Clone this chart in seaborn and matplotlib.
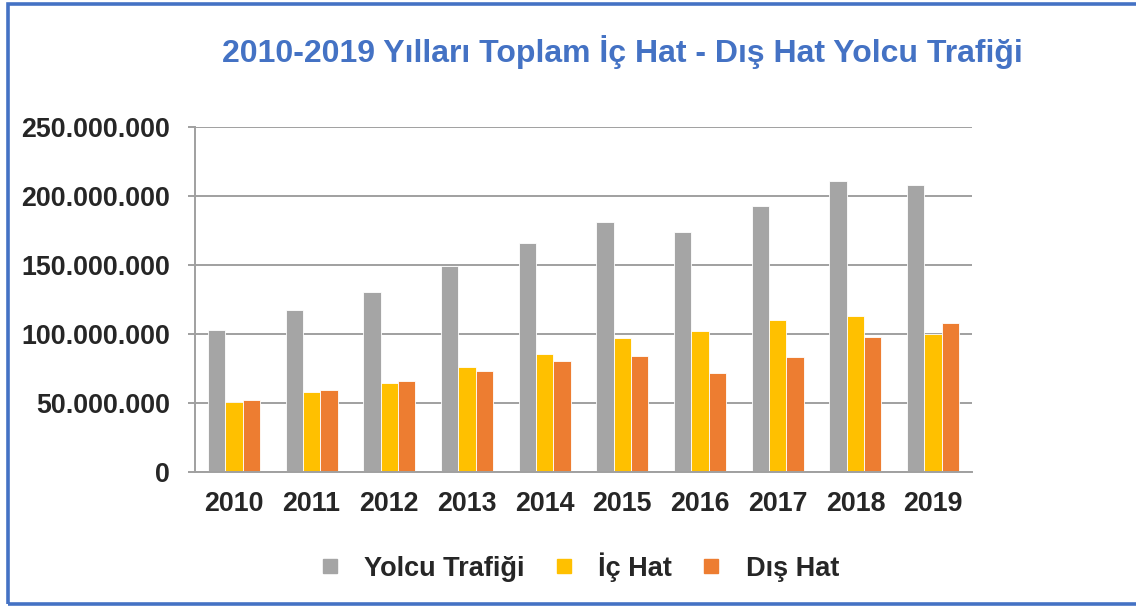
import matplotlib
matplotlib.use("Agg")
import matplotlib.pyplot as plt
import seaborn as sns
import pandas as pd
from matplotlib.patches import Rectangle
from matplotlib.lines import Line2D
from matplotlib.ticker import FuncFormatter, MultipleLocator

years = ["2010", "2011", "2012", "2013", "2014", "2015", "2016", "2017", "2018", "2019"]
yolcu_trafigi = [102.8, 117.6, 130.4, 149.4, 165.7, 181.0, 173.9, 193.0, 210.5, 208.3]
ic_hat = [50.6, 58.3, 64.7, 76.1, 85.4, 97.0, 102.5, 109.8, 112.8, 100.0]
dis_hat = [52.2, 59.3, 65.7, 73.3, 80.3, 84.0, 71.4, 83.2, 97.7, 108.3]
series_names = ["Yolcu Trafiği", "İç Hat", "Dış Hat"]
colors = ["#A5A5A5", "#FFC000", "#ED7D31"]

df = pd.DataFrame({
    "Yıl": years * 3,
    "Seri": [s for s in series_names for _ in years],
    "Yolcu": [v * 1e6 for v in yolcu_trafigi + ic_hat + dis_hat],
})

sns.set_style("white")
plt.rcParams["font.family"] = ["Liberation Sans", "DejaVu Sans"]

fig = plt.figure(figsize=(11.36, 6.07), dpi=100)
ax = fig.add_axes([0.1717, 0.2224, 0.6839, 0.5684])

sns.barplot(data=df, x="Yıl", y="Yolcu", hue="Seri", palette=colors, saturation=1,
            width=0.67, gap=0, edgecolor="white", linewidth=0.6, ax=ax, legend=False)

grid_c = "#A0A0A0"
ax.set_ylim(0, 250e6)
ax.set_xlim(-0.5, 9.5)
ax.yaxis.set_major_locator(MultipleLocator(50e6))
ax.yaxis.set_major_formatter(FuncFormatter(lambda v, p: f"{int(v):,}".replace(",", ".")))
ax.grid(axis="y", color=grid_c, linewidth=1.4)
ax.set_axisbelow(True)
for s in ["top", "right"]:
    ax.spines[s].set_visible(False)
for s in ["left", "bottom"]:
    ax.spines[s].set_color(grid_c)
    ax.spines[s].set_linewidth(1.4)

ax.set_xticks([i - 0.5 for i in range(11)], minor=True)
ax.tick_params(axis="x", which="minor", length=7, width=1.4, color=grid_c, direction="out")
ax.tick_params(axis="x", which="major", length=0, pad=14, labelsize=19.3)
ax.tick_params(axis="y", length=5, width=1.4, color=grid_c, pad=13, labelsize=19.3, left=True)
for lbl in ax.get_xticklabels() + ax.get_yticklabels():
    lbl.set_fontweight("bold")
ax.set_xlabel("")
ax.set_ylabel("")

fig.text(0.5475, 0.914, "2010-2019 Yılları Toplam İç Hat - Dış Hat Yolcu Trafiği",
         ha="center", va="center", fontsize=23, fontweight="bold", color="#4472C4")

handles = [Line2D([], [], marker="s", linestyle="none", markersize=10.5,
                  markerfacecolor=c, markeredgecolor=c) for c in colors]
fig.legend(handles, series_names, loc="center", bbox_to_anchor=(0.511, 0.066), ncol=3,
           frameon=False, prop={"weight": "bold", "size": 19.5},
           handlelength=0.6, handletextpad=0.96, columnspacing=1.15)

fig.patches.append(Rectangle((0.007, 0.005), 1.2, 0.988, transform=fig.transFigure,
                             fill=False, edgecolor="#4472C4", linewidth=2.6))

fig.savefig("out.png", dpi=100)
